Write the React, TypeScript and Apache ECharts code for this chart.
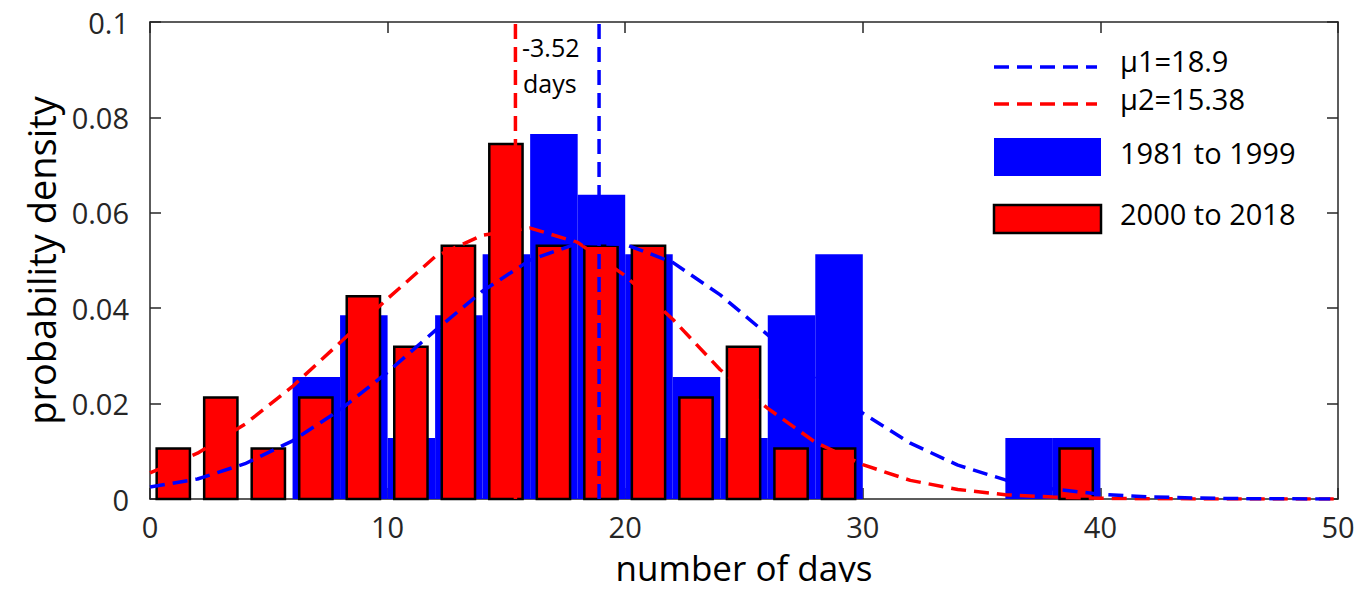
import React, { useEffect, useRef } from "react";
import * as echarts from "echarts";

// ---- data ----
const binEdges = [0, 2, 4, 6, 8, 10, 12, 14, 16, 18, 20, 22, 24, 26, 28, 30, 32, 34, 36, 38];
const blueDensity = [0, 0, 0, 0.0256, 0.0385, 0.0128, 0.0385, 0.0513, 0.0765, 0.0638, 0.0513, 0.0256, 0.0128, 0.0385, 0.0513, 0, 0, 0, 0.0128, 0.0128];
const redDensity = [0.0106, 0.0213, 0.0106, 0.0213, 0.0425, 0.0319, 0.0531, 0.0744, 0.0531, 0.0531, 0.0531, 0.0213, 0.0319, 0.0106, 0.0106, 0, 0, 0, 0, 0.0106];

const curveX = [0, 2, 4, 6, 8, 10, 12, 14, 16, 18, 20, 22, 24, 26, 28, 30, 32, 34, 36, 38, 40, 42, 44, 46, 48, 50];
const blueCurve = [0.0025, 0.0042, 0.0074, 0.0122, 0.0187, 0.0266, 0.0353, 0.0436, 0.0501, 0.0536, 0.0534, 0.0496, 0.0428, 0.0344, 0.0258, 0.018, 0.0117, 0.0071, 0.004, 0.0021, 0.001, 0.00046, 0.0002, 0.00008, 0.00003, 0.00001];
const redCurve = [0.0055, 0.0096, 0.0157, 0.0236, 0.0328, 0.042, 0.0508, 0.0553, 0.0568, 0.0538, 0.0468, 0.0377, 0.0271, 0.019, 0.0119, 0.0072, 0.0039, 0.002, 0.0009, 0.0004, 0.00015, 0.00005, 0.00002, 0, 0, 0];

const mu1 = 18.9;
const mu2 = 15.38;
const diffText = ["-3.52", "days"];
const legendLabels = ["\u03bc1=18.9", "\u03bc2=15.38", "1981 to 1999", "2000 to 2018"];
const xName = "number of days";
const yName = "probability density";

const BIN_W = 2;
const FONT = "Open Sans";
const AX = "#262626";

export default function App() {
  const ref = useRef<HTMLDivElement>(null);
  useEffect(() => {
    if (!ref.current) return;
    const chart = echarts.init(ref.current, undefined, { renderer: "svg" });

    const blueData = binEdges
      .map((e, i) => [e, e + BIN_W, blueDensity[i]])
      .filter((d) => d[2] > 0);
    const redData = binEdges
      .map((e, i) => [e + 0.28, e + 1.68, redDensity[i]])
      .filter((d) => d[2] > 0);

    const rectItem = (fill: string, stroke: string | null, lw: number) => (params: any, api: any) => {
      const x0 = api.value(0);
      const x1 = api.value(1);
      const y = api.value(2);
      const p0 = api.coord([x0, y]);
      const p1 = api.coord([x1, 0]);
      return {
        type: "rect",
        shape: { x: p0[0], y: p0[1], width: p1[0] - p0[0], height: p1[1] - p0[1] },
        style: stroke ? { fill, stroke, lineWidth: lw } : { fill },
      };
    };

    const tickLabel = { color: AX, fontFamily: FONT, fontSize: 29, lineHeight: 29 };
    const axLine = { show: true, onZero: false, lineStyle: { color: AX, width: 1.5 } };
    const axTick = { show: true, inside: true, length: 11, lineStyle: { color: AX, width: 1.5 } };

    const dashed = (color: string) => ({ color, width: 3.5, type: [15, 8] as any });

    chart.setOption({
      animation: false,
      backgroundColor: "#ffffff",
      grid: { left: 150, right: 27, top: 22, bottom: 88, containLabel: false },
      xAxis: [
        {
          type: "value",
          min: 0,
          max: 50,
          interval: 10,
          position: "bottom",
          axisLine: axLine,
          axisTick: axTick,
          splitLine: { show: false },
          axisLabel: { ...tickLabel, margin: 13 },
          name: xName,
          nameLocation: "middle",
          nameGap: 50,
          nameTextStyle: { color: "#000", fontFamily: FONT, fontSize: 35, lineHeight: 36 },
        },
        {
          type: "value",
          min: 0,
          max: 50,
          interval: 10,
          position: "top",
          axisLine: axLine,
          axisTick: axTick,
          splitLine: { show: false },
          axisLabel: { show: false },
        },
      ],
      yAxis: [
        {
          type: "value",
          min: 0,
          max: 0.1,
          interval: 0.02,
          position: "left",
          axisLine: axLine,
          axisTick: axTick,
          splitLine: { show: false },
          axisLabel: { ...tickLabel, margin: 21 },
          name: yName,
          nameLocation: "middle",
          nameGap: 90,
          nameTextStyle: { color: "#000", fontFamily: FONT, fontSize: 38 },
        },
        {
          type: "value",
          min: 0,
          max: 0.1,
          interval: 0.02,
          position: "right",
          axisLine: axLine,
          axisTick: axTick,
          splitLine: { show: false },
          axisLabel: { show: false },
        },
      ],
      series: [
        {
          type: "custom",
          name: legendLabels[2],
          renderItem: rectItem("#0000ff", null, 0),
          encode: { x: [0, 1], y: 2 },
          data: blueData,
          z: 2,
        },
        {
          type: "custom",
          name: legendLabels[3],
          renderItem: rectItem("#ff0000", "#000000", 2.5),
          encode: { x: [0, 1], y: 2 },
          data: redData,
          z: 3,
        },
        {
          type: "line",
          name: legendLabels[1],
          data: curveX.map((x, i) => [x, redCurve[i]]),
          showSymbol: false,
          symbol: "none",
          lineStyle: dashed("#ff0000"),
          z: 4,
        },
        {
          type: "line",
          name: legendLabels[0],
          data: curveX.map((x, i) => [x, blueCurve[i]]),
          showSymbol: false,
          symbol: "none",
          lineStyle: dashed("#0000ff"),
          z: 5,
        },
        {
          type: "line",
          name: "mu2 line",
          data: [
            [mu2, 0],
            [mu2, 0.1],
          ],
          showSymbol: false,
          symbol: "none",
          lineStyle: dashed("#ff0000"),
          z: 6,
        },
        {
          type: "line",
          name: "mu1 line",
          data: [
            [mu1, 0],
            [mu1, 0.1],
          ],
          showSymbol: false,
          symbol: "none",
          lineStyle: dashed("#0000ff"),
          z: 6,
        },
      ],
      graphic: [
        {
          type: "text",
          left: 522,
          top: 34,
          style: { text: diffText[0], fill: "#000", font: `25px "${FONT}"` },
          z: 10,
        },
        {
          type: "text",
          left: 523,
          top: 70,
          style: { text: diffText[1], fill: "#000", font: `25px "${FONT}"` },
          z: 10,
        },
        // legend
        {
          type: "line",
          shape: { x1: 994, y1: 67, x2: 1097, y2: 67 },
          style: { stroke: "#0000ff", lineWidth: 3.5, lineDash: [15, 8] },
          z: 10,
        },
        {
          type: "text",
          left: 1120,
          top: 46,
          style: { text: legendLabels[0], fill: "#000", font: `29px "${FONT}"` },
          z: 10,
        },
        {
          type: "line",
          shape: { x1: 994, y1: 104, x2: 1097, y2: 104 },
          style: { stroke: "#ff0000", lineWidth: 3.5, lineDash: [15, 8] },
          z: 10,
        },
        {
          type: "text",
          left: 1120,
          top: 84,
          style: { text: legendLabels[1], fill: "#000", font: `29px "${FONT}"` },
          z: 10,
        },
        {
          type: "rect",
          shape: { x: 994, y: 138, width: 107, height: 38 },
          style: { fill: "#0000ff" },
          z: 10,
        },
        {
          type: "text",
          left: 1120,
          top: 138,
          style: { text: legendLabels[2], fill: "#000", font: `29px "${FONT}"` },
          z: 10,
        },
        {
          type: "rect",
          shape: { x: 994, y: 205, width: 107, height: 28 },
          style: { fill: "#ff0000", stroke: "#000", lineWidth: 2.5 },
          z: 10,
        },
        {
          type: "text",
          left: 1120,
          top: 199,
          style: { text: legendLabels[3], fill: "#000", font: `29px "${FONT}"` },
          z: 10,
        },
      ],
    });
    return () => chart.dispose();
  }, []);
  return <div ref={ref} style={{ width: 1365, height: 590, margin: -8 }} />;
}
